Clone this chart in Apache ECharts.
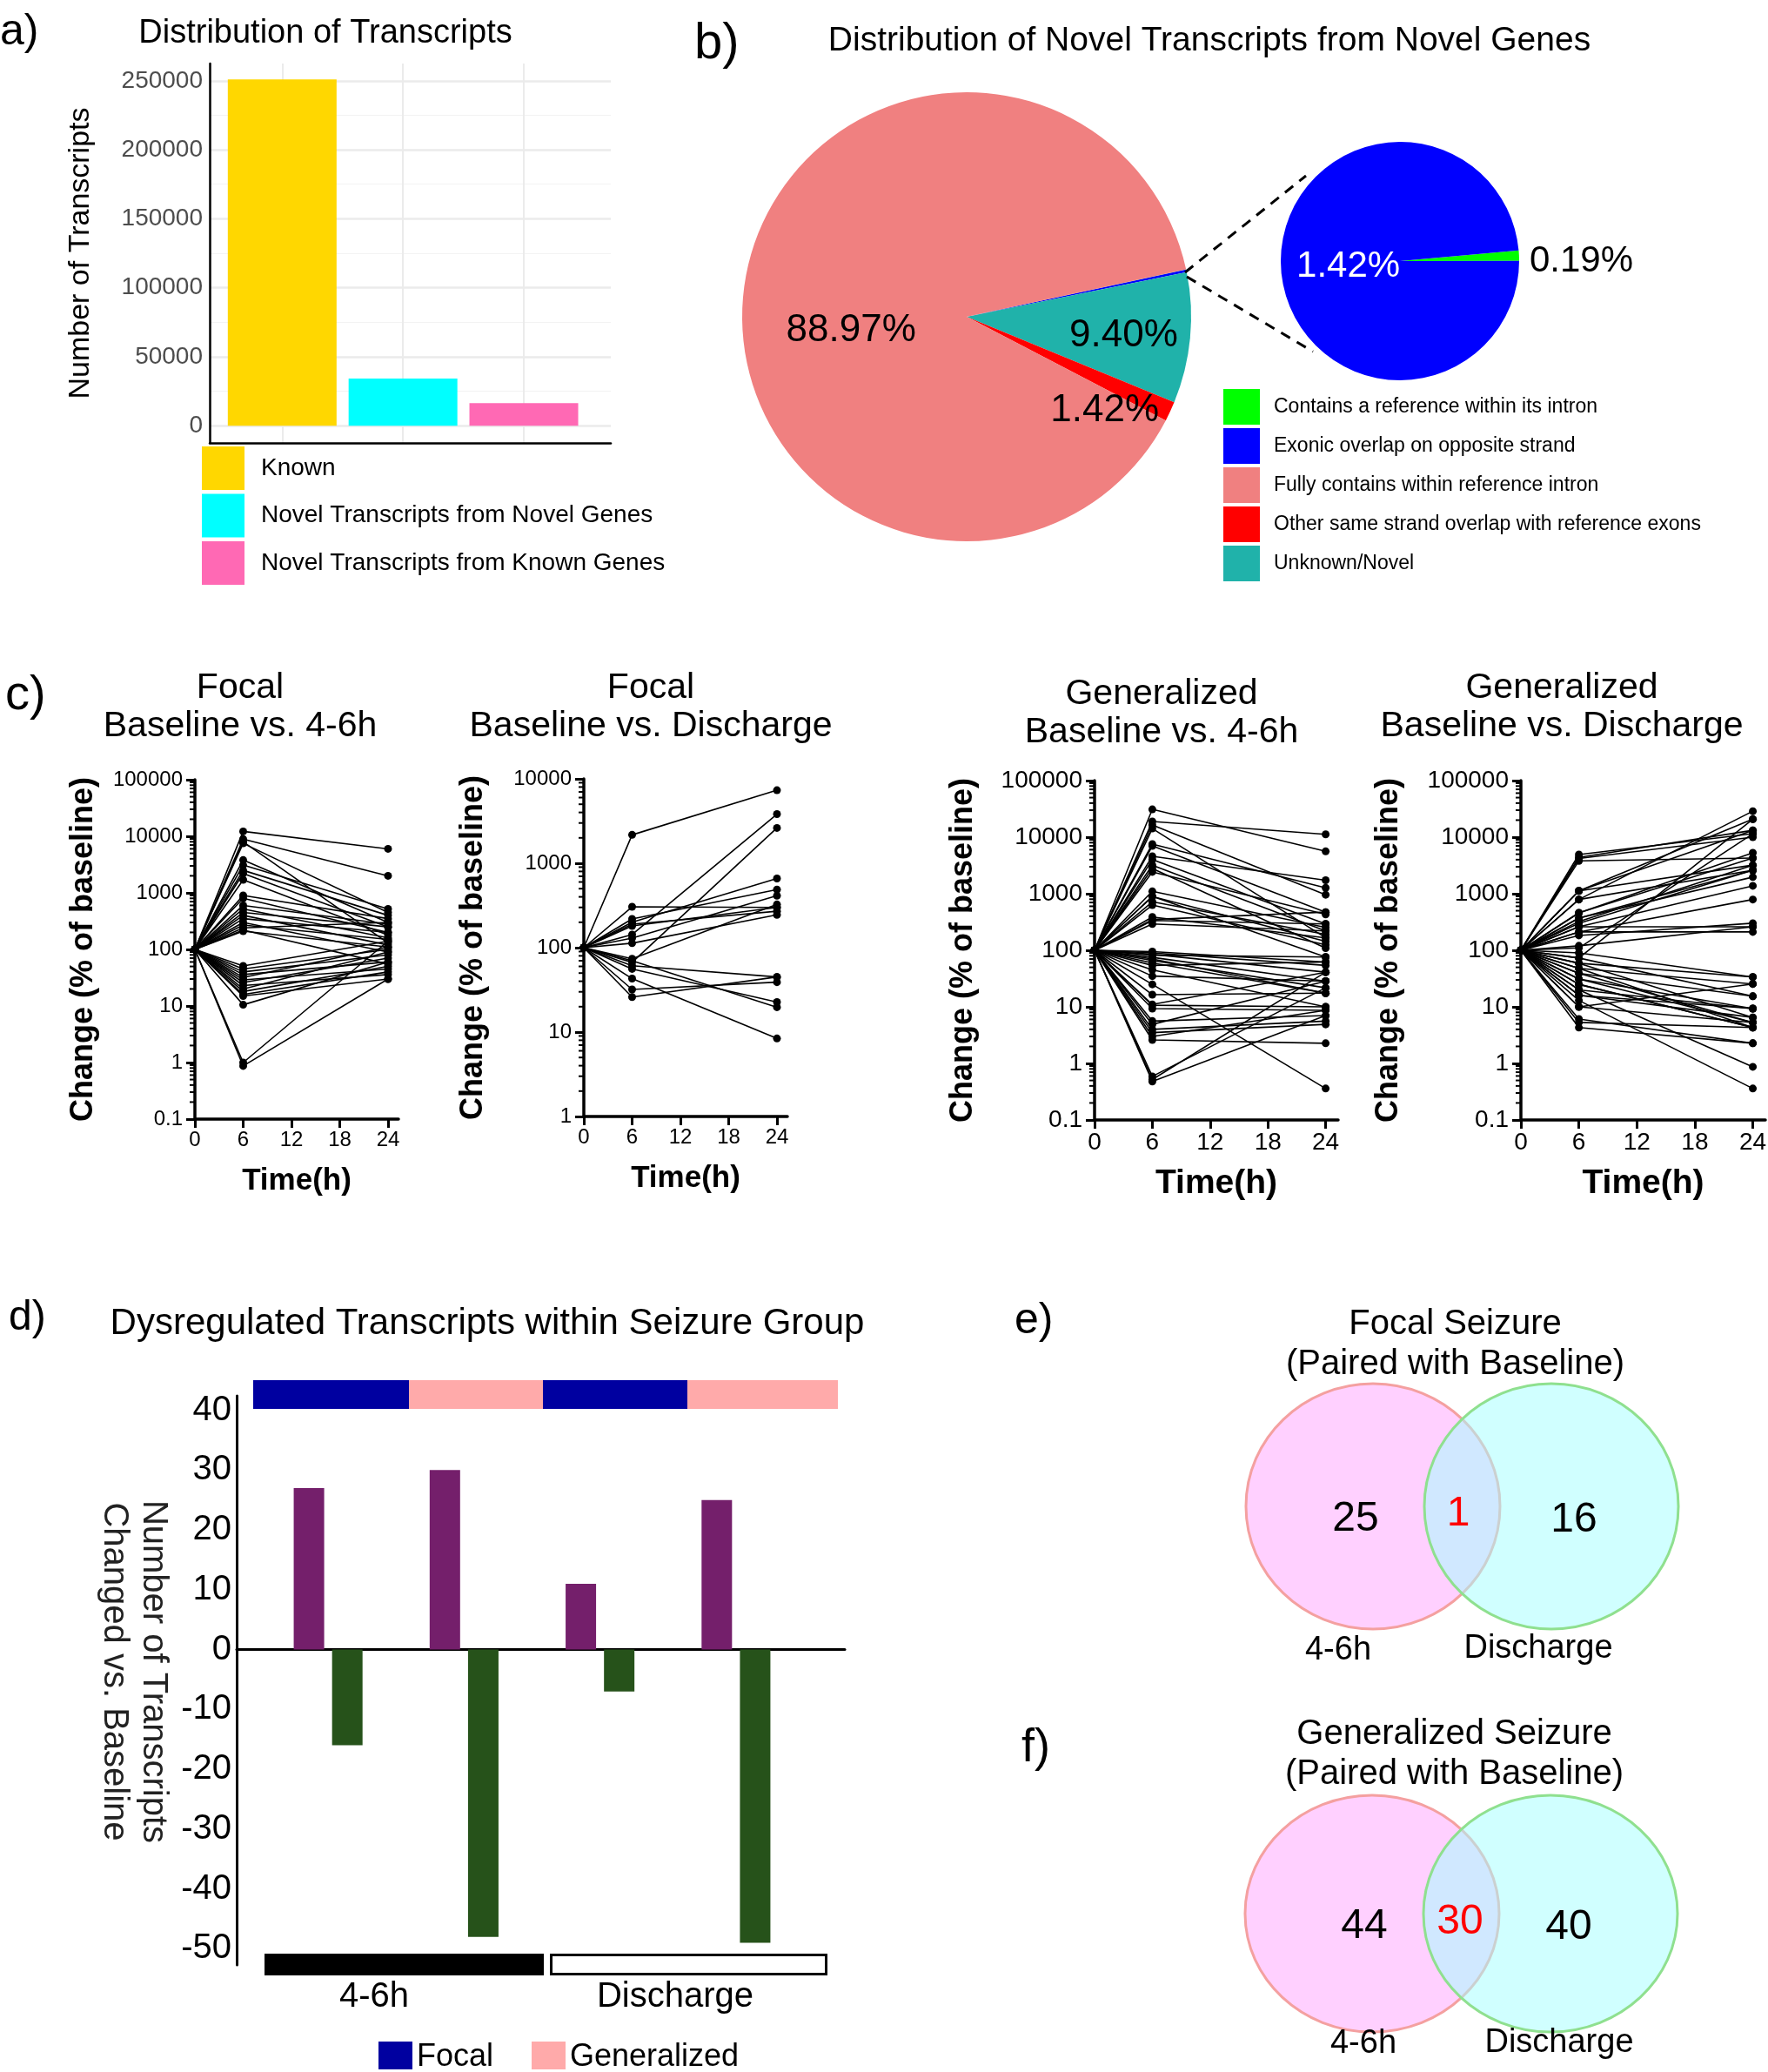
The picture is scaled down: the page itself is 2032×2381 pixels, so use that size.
<!DOCTYPE html>
<html><head><meta charset="utf-8">
<script src="https://cdn.jsdelivr.net/npm/echarts@6/dist/echarts.min.js"></script>
<style>html,body{margin:0;padding:0;background:#fff}#c{width:2032px;height:2381px}</style>
</head><body><div id="c"></div>
<script>
const FONT = '"Liberation Sans", Arial, Helvetica, sans-serif';

// ---------- panel a ----------
const aCategories = ['Known', 'Novel Transcripts from Novel Genes', 'Novel Transcripts from Known Genes'];
const aValues = [251000, 34100, 16400];
const aColors = ['#FFD700', '#00FFFF', '#FF69B4'];
const aTicks = [0, 50000, 100000, 150000, 200000, 250000];
const aMinorTicks = [25000, 75000, 125000, 175000, 225000];

// ---------- panel b ----------
const bClasses = ['Contains a reference within its intron', 'Exonic overlap on opposite strand',
  'Fully contains within reference intron', 'Other same strand overlap with reference exons', 'Unknown/Novel'];
const bColors = ['#00FF00', '#0000FF', '#F08080', '#FF0000', '#20B2AA'];
const bMainValues = [0.02, 0.19, 88.97, 1.42, 9.40];
const bMainOrder = [0, 1, 4, 3, 2];          // clockwise drawing order
const bMainLabelled = [false, false, true, true, true];
const bInsetClasses = [0, 1];                 // green, blue
const bInsetValues = [1.4, 98.6];             // shares as drawn in the zoomed pie
const bInsetLabels = ['0.19%', '1.42%'];

// ---------- panel c ----------
const cTimes = [0, 6, 24];
const cBaseline = 100;
const cXTicks = [0, 6, 12, 18, 24];
const cFocal46At6 = [12200, 8900, 7500, 8000, 3800, 3100, 2500, 2200, 1700, 900, 800, 600, 520, 450, 400, 350, 300, 270, 240, 220, 210, 51, 45, 40, 36, 32, 29, 26, 23, 20, 18, 16, 15, 10.5, 1.0, 0.87];
const cFocal46At24 = [6000, 2000, 450, 130, 300, 520, 400, 250, 180, 350, 200, 280, 160, 250, 120, 200, 90, 150, 300, 55, 110, 140, 100, 80, 60, 110, 45, 70, 36, 90, 50, 40, 30, 60, 140, 30];
const cFocalDisAt6 = [2170, 305, 200, 219, 181, 143, 130, 113, 67, 74, 61, 56, 43, 32, 26, 70, 190];
const cFocalDisAt24 = [7330, 300, 660, 488, 300, 3820, 413, 245, 2620, 325, 45, 22.7, 8.4, 39, 45, 19.7, 270];
const cGen46At6 = [31000, 18900, 16400, 14200, 7540, 7000, 4600, 4000, 3200, 2800, 2430, 1100, 890, 720, 630, 387, 336, 292, 350, 900, 95, 90, 85, 82, 75, 66, 60, 54, 35, 25, 16.4, 10.7, 9.3, 11, 5.6, 4.9, 4.0, 3.5, 2.6, 3.0, 0.59, 0.48, 0.52, 45, 70];
const cGen46At24 = [5610, 11200, 960, 166, 1270, 473, 1730, 292, 220, 109, 430, 254, 144, 191, 125, 166, 292, 220, 473, 76, 62, 54, 41, 76, 28.5, 21.7, 17.5, 62, 28.5, 0.36, 17.5, 10, 8.7, 41, 7.0, 28.5, 5.6, 4.9, 2.27, 8.7, 21.7, 7.0, 41, 10, 17.5];
const cGenDisAt6 = [4930, 4400, 3800, 4200, 1120, 790, 1120, 790, 458, 370, 323, 260, 211, 183, 260, 211, 300, 120, 73, 59, 48, 39, 31, 25, 20, 16, 13, 10, 6.1, 5.3, 4.3, 10, 16, 90, 73, 59, 39, 25, 110, 458, 370, 1120, 20, 48, 31];
const cGenDisAt24 = [11500, 13200, 4270, 10000, 20800, 28800, 3200, 2600, 5290, 1970, 3200, 1380, 790, 301, 260, 211, 2600, 260, 20800, 33.7, 25.4, 15.4, 9.3, 4.3, 0.87, 6.5, 0.36, 5.3, 2.27, 4.3, 2.27, 25.4, 9.3, 33.7, 15.4, 6.5, 5.3, 4.3, 11500, 4270, 2600, 13200, 9.3, 4.3, 5.3];

// ---------- panel d ----------
const dCategories = ['Focal 4-6h', 'Generalized 4-6h', 'Focal Discharge', 'Generalized Discharge'];
const dUp = [27, 30, 11, 25];
const dDown = [-16, -48, -7, -49];
const dTicks = [-50, -40, -30, -20, -10, 0, 10, 20, 30, 40];

// ---------- panels e / f ----------
const vennSets = ['4-6h', 'Discharge'];
const eCounts = [25, 1, 16];
const fCounts = [44, 30, 40];

// ================= build =================
const grids = [
  {left: 241, top: 73, width: 461, height: 436},
  {left: 224, top: 896, width: 234, height: 390},
  {left: 671, top: 895, width: 234, height: 388},
  {left: 1258, top: 897, width: 280, height: 390},
  {left: 1748, top: 897, width: 281, height: 390},
  {left: 272, top: 1604, width: 699, height: 654},
  {left: 299, top: 1604, width: 625, height: 654}
].map(g => Object.assign(g, {outerBoundsMode: 'none', containLabel: false}));

const xAxes = [];
const yAxes = [];
// panel a
xAxes.push({gridIndex: 0, type: 'value', min: 0.4, max: 3.72,
  axisLine: {show: true, onZero: false, lineStyle: {color: '#000', width: 2.5}},
  axisTick: {show: false, customValues: [1, 2, 3]}, axisLabel: {show: false},
  splitLine: {show: true, lineStyle: {color: '#EBEBEB', width: 2}}});
yAxes.push({gridIndex: 0, type: 'value', min: -12500, max: 262500,
  name: 'Number of Transcripts', nameLocation: 'middle', nameGap: 131,
  nameTextStyle: {fontSize: 34, color: '#000', fontFamily: FONT},
  axisLine: {show: true, lineStyle: {color: '#000', width: 2.5}},
  axisTick: {show: false, customValues: aTicks},
  axisLabel: {customValues: aTicks, fontSize: 28, color: '#4D4D4D', margin: 8, fontFamily: FONT,
    formatter: v => String(Math.round(v))},
  splitLine: {show: true, lineStyle: {color: '#EBEBEB', width: 2.5}}});
yAxes.push({gridIndex: 0, type: 'value', min: -12500, max: 262500, position: 'left',
  axisLine: {show: false}, axisTick: {show: false, customValues: aMinorTicks}, axisLabel: {show: false},
  splitLine: {show: true, lineStyle: {color: '#F3F3F3', width: 1.2}}});

// panel c
const cPlots = [
  {v6: cFocal46At6, v24: cFocal46At24, min: 0.1, max: 100000, lo: -1, hi: 5, tick: 24, nameSize: 35, yGap: 110},
  {v6: cFocalDisAt6, v24: cFocalDisAt24, min: 1, max: 10000, lo: 0, hi: 4, tick: 24, nameSize: 35, yGap: 109},
  {v6: cGen46At6, v24: cGen46At24, min: 0.1, max: 100000, lo: -1, hi: 5, tick: 28, nameSize: 39, yGap: 133},
  {v6: cGenDisAt6, v24: cGenDisAt24, min: 0.1, max: 100000, lo: -1, hi: 5, tick: 28, nameSize: 39, yGap: 134}
];
const fmtLog = v => (v < 1 ? String(+v.toFixed(1)) : String(Math.round(v)));
cPlots.forEach((p, i) => {
  const gi = i + 1;
  xAxes.push({gridIndex: gi, type: 'value', min: 0, max: 25.3,
    name: 'Time(h)', nameLocation: 'middle', nameGap: 54,
    nameTextStyle: {fontSize: p.nameSize, fontWeight: 'bold', color: '#000', fontFamily: FONT},
    axisLine: {show: true, onZero: false, lineStyle: {color: '#000', width: 3.5}},
    axisTick: {show: true, customValues: cXTicks, length: 10, lineStyle: {color: '#000', width: 3}},
    axisLabel: {customValues: cXTicks, fontSize: p.tick, color: '#000', margin: 12, fontFamily: FONT},
    splitLine: {show: false}});
  yAxes.push({gridIndex: gi, type: 'log', logBase: 10, min: p.min, max: p.max,
    name: 'Change (% of baseline)', nameLocation: 'middle', nameGap: p.yGap,
    nameTextStyle: {fontSize: 36, fontWeight: 'bold', color: '#000', fontFamily: FONT},
    axisLine: {show: true, lineStyle: {color: '#000', width: 3.5}},
    axisTick: {show: true, length: 10, lineStyle: {color: '#000', width: 3}},
    axisLabel: {fontSize: p.tick, color: '#000', margin: 14, fontFamily: FONT, formatter: fmtLog},
    splitLine: {show: false}});
});

// panel d frame + bars
xAxes.push({gridIndex: 5, type: 'value', min: 0, max: 1,
  axisLine: {show: true, onZero: true, lineStyle: {color: '#000', width: 3}},
  axisTick: {show: false}, axisLabel: {show: false}, splitLine: {show: false}});
yAxes.push({gridIndex: 5, type: 'value', min: -52.7, max: 42.4,
  axisLine: {show: true, lineStyle: {color: '#000', width: 3}},
  axisTick: {show: false, customValues: dTicks},
  axisLabel: {customValues: dTicks, fontSize: 40, color: '#000', margin: 6, fontFamily: FONT},
  splitLine: {show: false}});
xAxes.push({gridIndex: 6, type: 'category', data: dCategories, show: false});
yAxes.push({gridIndex: 6, type: 'value', min: -52.7, max: 42.4, show: false, splitLine: {show: false}});

// ---------- series ----------
const series = [];
aCategories.forEach((name, i) => {
  series.push({type: 'bar', name, xAxisIndex: 0, yAxisIndex: 0, barWidth: 125, barGap: '-100%',
    itemStyle: {color: aColors[i]}, data: [[i + 1, aValues[i]]], z: 3});
});

series.push({type: 'pie', name: 'main', center: [1111, 364], radius: 258, startAngle: 12.2, clockwise: true,
  silent: true,
  labelLine: {show: false},
  data: bMainOrder.map(k => {
    const offs = {2: [-2, 33], 4: [49, 9], 3: [39, 52]};
    return {
      name: bClasses[k], value: bMainValues[k], itemStyle: {color: bColors[k]},
      label: {show: bMainLabelled[k], position: 'inside', offset: offs[k] || [0, 0],
        formatter: p => p.value.toFixed(2) + '%', fontSize: 44, color: '#000', fontFamily: FONT}
    };
  })});

series.push({type: 'pie', name: 'inset', center: [1609, 300], radius: 137, startAngle: 5.1, clockwise: true,
  silent: true, labelLine: {show: false},
  data: bInsetClasses.map((k, j) => ({
    name: bClasses[k], value: bInsetValues[j], itemStyle: {color: bColors[k]},
    label: {show: true, position: 'inside', offset: j === 0 ? [137, 4] : [12, 3],
      formatter: () => bInsetLabels[j], fontSize: 42, color: j === 0 ? '#000' : '#fff', fontFamily: FONT}
  }))});

cPlots.forEach((p, i) => {
  const gi = i + 1;
  p.v6.forEach((a, k) => {
    series.push({type: 'line', xAxisIndex: gi, yAxisIndex: gi + 1, silent: true,
      data: [[cTimes[0], cBaseline], [cTimes[1], a], [cTimes[2], p.v24[k]]],
      symbol: 'circle', symbolSize: 9, showSymbol: true,
      lineStyle: {color: '#000', width: 1.6}, itemStyle: {color: '#000'}, z: 3});
  });
  const minor = [];
  for (let d = p.lo; d < p.hi; d++) for (let m = 2; m <= 9; m++) minor.push([0, m * Math.pow(10, d)]);
  series.push({type: 'custom', xAxisIndex: gi, yAxisIndex: gi + 1, silent: true, clip: false, z: 6,
    data: minor,
    renderItem: (params, api) => {
      const pt = api.coord([0, api.value(1)]);
      return {type: 'line', shape: {x1: pt[0] - 6, y1: pt[1], x2: pt[0], y2: pt[1]},
        style: {stroke: '#000', lineWidth: 2}};
    }});
});

series.push({type: 'bar', name: 'Up', xAxisIndex: 6, yAxisIndex: 7, data: dUp, barWidth: 35, barGap: '26%',
  itemStyle: {color: '#741F6B'}, silent: true});
series.push({type: 'bar', name: 'Down', xAxisIndex: 6, yAxisIndex: 7, data: dDown, barWidth: 35, barGap: '26%',
  itemStyle: {color: '#26521A'}, silent: true});

// ---------- graphic ----------
function txt(x, y, text, size, o = {}) {
  const st = {text, fontSize: size, fontFamily: FONT, fontWeight: o.bold ? 'bold' : 'normal',
    fill: o.color || '#000', align: o.align || 'center', verticalAlign: 'middle',
    textAlign: o.align || 'center', textVerticalAlign: 'middle'};
  if (o.lh) st.lineHeight = o.lh;
  return {type: 'text', x, y, rotation: o.rot || 0, silent: true, z: 10, style: st};
}
const rect = (x, y, w, h, fill, stroke, lw) => ({type: 'rect', silent: true, z: 5,
  shape: {x, y, width: w, height: h}, style: {fill, stroke: stroke || null, lineWidth: lw || 0}});
const dash = (x1, y1, x2, y2) => ({type: 'line', silent: true, z: 5, shape: {x1, y1, x2, y2},
  style: {stroke: '#000', lineWidth: 3, lineDash: [12, 9]}});

const g = [];
// panel labels
g.push(txt(0, 37, 'a)', 50, {align: 'left'}));
g.push(txt(798, 51, 'b)', 58, {align: 'left'}));
g.push(txt(6, 800, 'c)', 56, {align: 'left'}));
g.push(txt(10, 1515, 'd)', 48, {align: 'left'}));
g.push(txt(1166, 1518, 'e)', 50, {align: 'left'}));
g.push(txt(1174, 2009, 'f)', 54, {align: 'left'}));
// titles
g.push(txt(374, 39, 'Distribution of Transcripts', 38));
g.push(txt(1390, 47, 'Distribution of Novel Transcripts from Novel Genes', 39));
g.push(txt(276, 813, 'Focal\nBaseline vs. 4-6h', 41, {lh: 44}));
g.push(txt(748, 813, 'Focal\nBaseline vs. Discharge', 41, {lh: 44}));
g.push(txt(1335, 820, 'Generalized\nBaseline vs. 4-6h', 41, {lh: 44}));
g.push(txt(1795, 813, 'Generalized\nBaseline vs. Discharge', 41, {lh: 44}));
g.push(txt(560, 1521, 'Dysregulated Transcripts within Seizure Group', 42));
// pie connectors
g.push(dash(1362, 313, 1501, 202));
g.push(dash(1364, 318, 1509, 404));
// panel d decorations
g.push(rect(291, 1586, 179, 33, '#0000A0'));
g.push(rect(470, 1586, 154, 33, '#FFAAAA'));
g.push(rect(624, 1586, 166, 33, '#0000A0'));
g.push(rect(790, 1586, 173, 33, '#FFAAAA'));
g.push(rect(304, 2245, 321, 25, '#000'));
g.push(rect(633.5, 2246.5, 316, 22, '#fff', '#000', 3));
g.push(txt(430, 2295, '4-6h', 40));
g.push(txt(776, 2295, 'Discharge', 40));
g.push(txt(154, 1921, 'Number of Transcripts\nChanged vs. Baseline', 40, {rot: -Math.PI / 2, lh: 45, color: '#222'}));
g.push(rect(435, 2346, 39, 32, '#0000A0'));
g.push(txt(479, 2364, 'Focal', 36, {align: 'left'}));
g.push(rect(611, 2346, 39, 32, '#FFAAAA'));
g.push(txt(655, 2364, 'Generalized', 36, {align: 'left'}));
// venn diagrams
function venn(cy, ry, lx, rx, counts, title, tY, numY, labY, labX) {
  g.push({type: 'ellipse', silent: true, z: 4, shape: {cx: lx, cy, rx: 146, ry},
    style: {fill: 'rgba(255,161,255,0.5)', stroke: '#F4A0A0', lineWidth: 3}});
  g.push({type: 'ellipse', silent: true, z: 4, shape: {cx: rx, cy, rx: 146, ry},
    style: {fill: 'rgba(161,255,255,0.5)', stroke: '#8FE08F', lineWidth: 3}});
  g.push(txt((lx + rx) / 2 - 8, tY, title, 40, {lh: 46}));
  g.push(txt(numY[0][0], numY[0][1], String(counts[0]), 48));
  g.push(txt(numY[1][0], numY[1][1], String(counts[1]), 48, {color: '#FF0000'}));
  g.push(txt(numY[2][0], numY[2][1], String(counts[2]), 48));
  g.push(txt(labX[0], labY[0], vennSets[0], 38));
  g.push(txt(labX[1], labY[1], vennSets[1], 38));
}
venn(1731, 141, 1578, 1783, eCounts, 'Focal Seizure\n(Paired with Baseline)', 1545,
  [[1558, 1746], [1676, 1740], [1809, 1747]], [1897, 1895], [1538, 1768]);
venn(2199, 136, 1577, 1782, fCounts, 'Generalized Seizure\n(Paired with Baseline)', 2016,
  [[1568, 2214], [1678, 2209], [1803, 2215]], [2349, 2348], [1567, 1792]);

const option = {
  animation: false,
  backgroundColor: '#fff',
  textStyle: {fontFamily: FONT},
  grid: grids,
  xAxis: xAxes,
  yAxis: yAxes,
  legend: [
    {data: aCategories, orient: 'vertical', left: 232, top: 513, padding: 0, itemWidth: 49, itemHeight: 50,
      itemGap: 4.5, icon: 'rect', selectedMode: false,
      textStyle: {fontSize: 28, color: '#000', fontFamily: FONT, padding: [0, 0, 0, 14]}},
    {data: bClasses, orient: 'vertical', left: 1406, top: 447, padding: 0, itemWidth: 42, itemHeight: 41,
      itemGap: 4, icon: 'rect', selectedMode: false,
      textStyle: {fontSize: 23, color: '#000', fontFamily: FONT, padding: [0, 0, 0, 11]}}
  ],
  series,
  graphic: {elements: g}
};
const chart = echarts.init(document.getElementById('c'), null, {width: 2032, height: 2381});
chart.setOption(option);
</script>
</body></html>
